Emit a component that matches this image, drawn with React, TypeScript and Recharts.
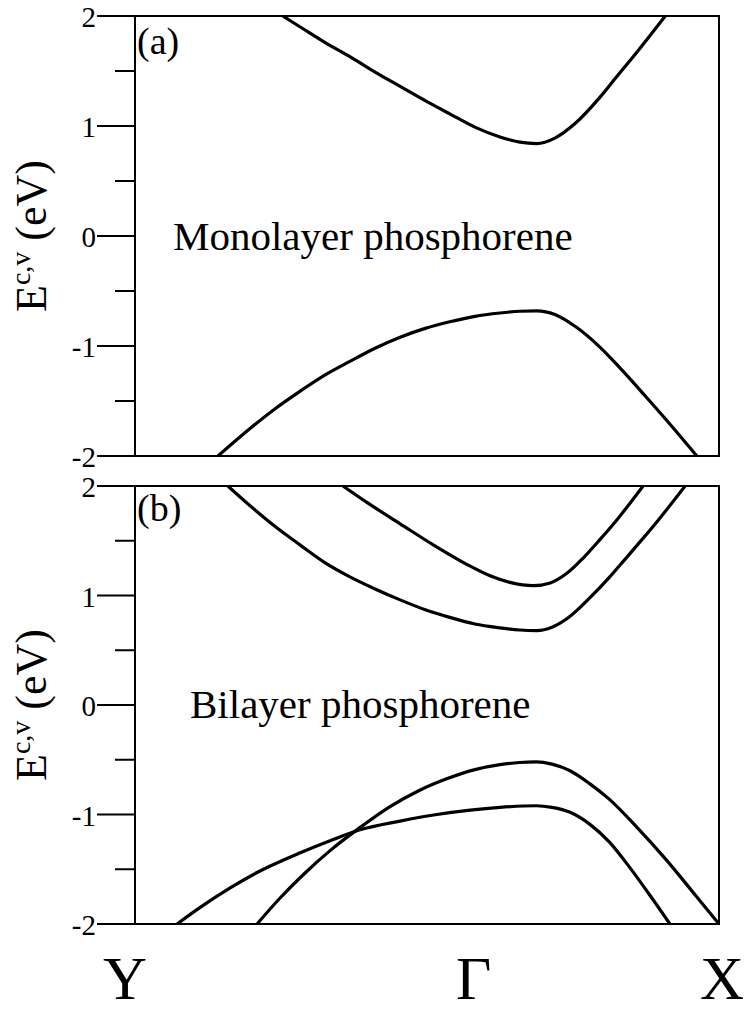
import React from 'react';
import { LineChart, Line, XAxis, YAxis, ReferenceArea } from 'recharts';

// k runs along the path Y -> Gamma -> X (0..1), energies in eV
const kTicks = [0, 0.58, 1];
const kLabels = ['Y', 'Γ', 'X'];
const eTicks = [-2, -1.5, -1, -0.5, 0, 0.5, 1, 1.5, 2];

const monoCond = [
  { k: 0.253, e: 2.0 }, { k: 0.283, e: 1.9 }, { k: 0.325, e: 1.76 }, { k: 0.368, e: 1.63 },
  { k: 0.411, e: 1.49 }, { k: 0.454, e: 1.36 }, { k: 0.497, e: 1.23 }, { k: 0.539, e: 1.11 },
  { k: 0.582, e: 0.99 }, { k: 0.625, e: 0.9 }, { k: 0.659, e: 0.853 }, { k: 0.688, e: 0.84 },
  { k: 0.719, e: 0.89 }, { k: 0.753, e: 1.02 }, { k: 0.796, e: 1.26 }, { k: 0.825, e: 1.45 },
  { k: 0.853, e: 1.63 }, { k: 0.88, e: 1.81 }, { k: 0.908, e: 2.0 },
];
const monoVal = [
  { k: 0.142, e: -2.0 }, { k: 0.197, e: -1.75 }, { k: 0.24, e: -1.57 }, { k: 0.283, e: -1.41 },
  { k: 0.325, e: -1.265 }, { k: 0.368, e: -1.14 }, { k: 0.411, e: -1.02 }, { k: 0.454, e: -0.92 },
  { k: 0.497, e: -0.84 }, { k: 0.539, e: -0.78 }, { k: 0.582, e: -0.73 }, { k: 0.625, e: -0.7 },
  { k: 0.659, e: -0.684 }, { k: 0.688, e: -0.68 }, { k: 0.719, e: -0.713 }, { k: 0.756, e: -0.83 },
  { k: 0.796, e: -1.01 }, { k: 0.83, e: -1.197 }, { k: 0.873, e: -1.45 }, { k: 0.911, e: -1.68 },
  { k: 0.962, e: -2.0 },
];

const biCondLow = [
  { k: 0.159, e: 2.0 }, { k: 0.197, e: 1.82 }, { k: 0.24, e: 1.63 }, { k: 0.283, e: 1.46 },
  { k: 0.325, e: 1.3 }, { k: 0.368, e: 1.17 }, { k: 0.411, e: 1.06 }, { k: 0.454, e: 0.96 },
  { k: 0.497, e: 0.87 }, { k: 0.539, e: 0.8 }, { k: 0.582, e: 0.74 }, { k: 0.625, e: 0.705 },
  { k: 0.659, e: 0.685 }, { k: 0.688, e: 0.68 }, { k: 0.714, e: 0.71 }, { k: 0.74, e: 0.79 },
  { k: 0.779, e: 0.98 }, { k: 0.813, e: 1.17 }, { k: 0.839, e: 1.33 }, { k: 0.868, e: 1.51 },
  { k: 0.897, e: 1.695 }, { k: 0.942, e: 2.0 },
];
const biCondHigh = [
  { k: 0.356, e: 2.0 }, { k: 0.397, e: 1.85 }, { k: 0.454, e: 1.655 }, { k: 0.51, e: 1.465 },
  { k: 0.568, e: 1.285 }, { k: 0.608, e: 1.18 }, { k: 0.642, e: 1.12 }, { k: 0.682, e: 1.09 },
  { k: 0.711, e: 1.115 }, { k: 0.74, e: 1.205 }, { k: 0.767, e: 1.34 }, { k: 0.796, e: 1.51 },
  { k: 0.825, e: 1.69 }, { k: 0.87, e: 2.0 },
];
const biValHigh = [
  { k: 0.209, e: -2.0 }, { k: 0.248, e: -1.765 }, { k: 0.288, e: -1.55 }, { k: 0.334, e: -1.33 },
  { k: 0.385, e: -1.12 }, { k: 0.436, e: -0.93 }, { k: 0.485, e: -0.785 }, { k: 0.536, e: -0.67 },
  { k: 0.582, e: -0.59 }, { k: 0.625, e: -0.545 }, { k: 0.659, e: -0.525 }, { k: 0.687, e: -0.52 },
  { k: 0.714, e: -0.54 }, { k: 0.745, e: -0.6 }, { k: 0.779, e: -0.72 }, { k: 0.812, e: -0.86 },
  { k: 0.86, e: -1.12 }, { k: 0.909, e: -1.41 }, { k: 0.954, e: -1.7 }, { k: 1.0, e: -2.0 },
];
const biValLow = [
  { k: 0.072, e: -2.0 }, { k: 0.111, e: -1.85 }, { k: 0.163, e: -1.67 }, { k: 0.209, e: -1.53 },
  { k: 0.283, e: -1.35 }, { k: 0.334, e: -1.24 }, { k: 0.385, e: -1.14 }, { k: 0.454, e: -1.06 },
  { k: 0.517, e: -1.0 }, { k: 0.574, e: -0.96 }, { k: 0.625, e: -0.935 }, { k: 0.687, e: -0.92 },
  { k: 0.714, e: -0.935 }, { k: 0.745, e: -0.98 }, { k: 0.779, e: -1.09 }, { k: 0.812, e: -1.25 },
  { k: 0.848, e: -1.49 }, { k: 0.882, e: -1.74 }, { k: 0.916, e: -2.0 },
];

const serif = '"Liberation Serif", "Times New Roman", serif';
const W = 748;

const ETick = ({ x, y, payload }: any) => {
  const v = payload.value;
  const major = Number.isInteger(v);
  return (
    <g>
      <line x1={x - (major ? 38 : 20)} x2={x} y1={y} y2={y} stroke="#000" strokeWidth={2} />
      {major && (
        <text x={x - 39} y={y + 11} textAnchor="end" fontSize={29} fontFamily={serif} fill="#000">
          {String(v)}
        </text>
      )}
    </g>
  );
};

const labelShift = [-10, 0, 3];
const KTick = ({ x, y, payload }: any) => {
  const i = kTicks.indexOf(payload.value);
  return (
    <text x={x + labelShift[i]} y={y + 75} textAnchor="middle" fontSize={61} fontFamily={serif} fill="#000">
      {kLabels[i]}
    </text>
  );
};

const EnergyLabel = ({ viewBox }: any) => {
  const cx = 46;
  const cy = viewBox.y + viewBox.height / 2;
  return (
    <text x={cx} y={cy} transform={`rotate(-90, ${cx}, ${cy})`} textAnchor="middle" fontFamily={serif} fontSize={44} fill="#000">
      E<tspan fontSize={28} dy={-16}>c,v</tspan>
      <tspan dy={16}> (eV)</tspan>
    </text>
  );
};

const Panel = ({ bands, height, bottom, showX }: { bands: { k: number; e: number }[][]; height: number; bottom: number; showX: boolean }) => (
  <LineChart width={W} height={height} margin={{ top: 16, right: 29, bottom, left: 0 }}>
    <XAxis
      type="number"
      dataKey="k"
      domain={[0, 1]}
      ticks={kTicks}
      interval={0}
      hide={!showX}
      height={89}
      axisLine={false}
      tickLine={false}
      tickSize={0}
      tickMargin={0}
      tick={<KTick />}
    />
    <YAxis
      type="number"
      dataKey="e"
      domain={[-2, 2]}
      ticks={eTicks}
      interval={0}
      width={135}
      axisLine={false}
      tickLine={false}
      tickSize={0}
      tickMargin={0}
      tick={<ETick />}
      allowDataOverflow
      label={{ content: <EnergyLabel /> }}
    />
    <ReferenceArea x1={0} x2={1} y1={-2} y2={2} fill="none" stroke="#000" strokeWidth={2} fillOpacity={0} />
    {bands.map((b, i) => (
      <Line
        key={i}
        data={b}
        dataKey="e"
        type="monotone"
        stroke="#000"
        strokeWidth={3.2}
        dot={false}
        activeDot={false}
        isAnimationActive={false}
      />
    ))}
  </LineChart>
);

export default function App() {
  return (
    <div style={{ position: 'absolute', left: 0, top: 0, width: W, height: 1013, background: '#fff' }}>
      <div style={{ position: 'absolute', left: 0, top: 0 }}>
        <Panel bands={[monoCond, monoVal]} height={485} bottom={29} showX={false} />
      </div>
      <div style={{ position: 'absolute', left: 0, top: 470 }}>
        <Panel bands={[biCondLow, biCondHigh, biValHigh, biValLow]} height={543} bottom={0} showX />
      </div>
      <svg width={W} height={1013} style={{ position: 'absolute', left: 0, top: 0, pointerEvents: 'none' }}>
        <g fontFamily={serif} fill="#000">
          <text x={137} y={54} fontSize={38}>(a)</text>
          <text x={137} y={521} fontSize={38}>(b)</text>
          <text x={173} y={250} fontSize={41}>Monolayer phosphorene</text>
          <text x={190} y={718} fontSize={41}>Bilayer phosphorene</text>
        </g>
      </svg>
    </div>
  );
}
